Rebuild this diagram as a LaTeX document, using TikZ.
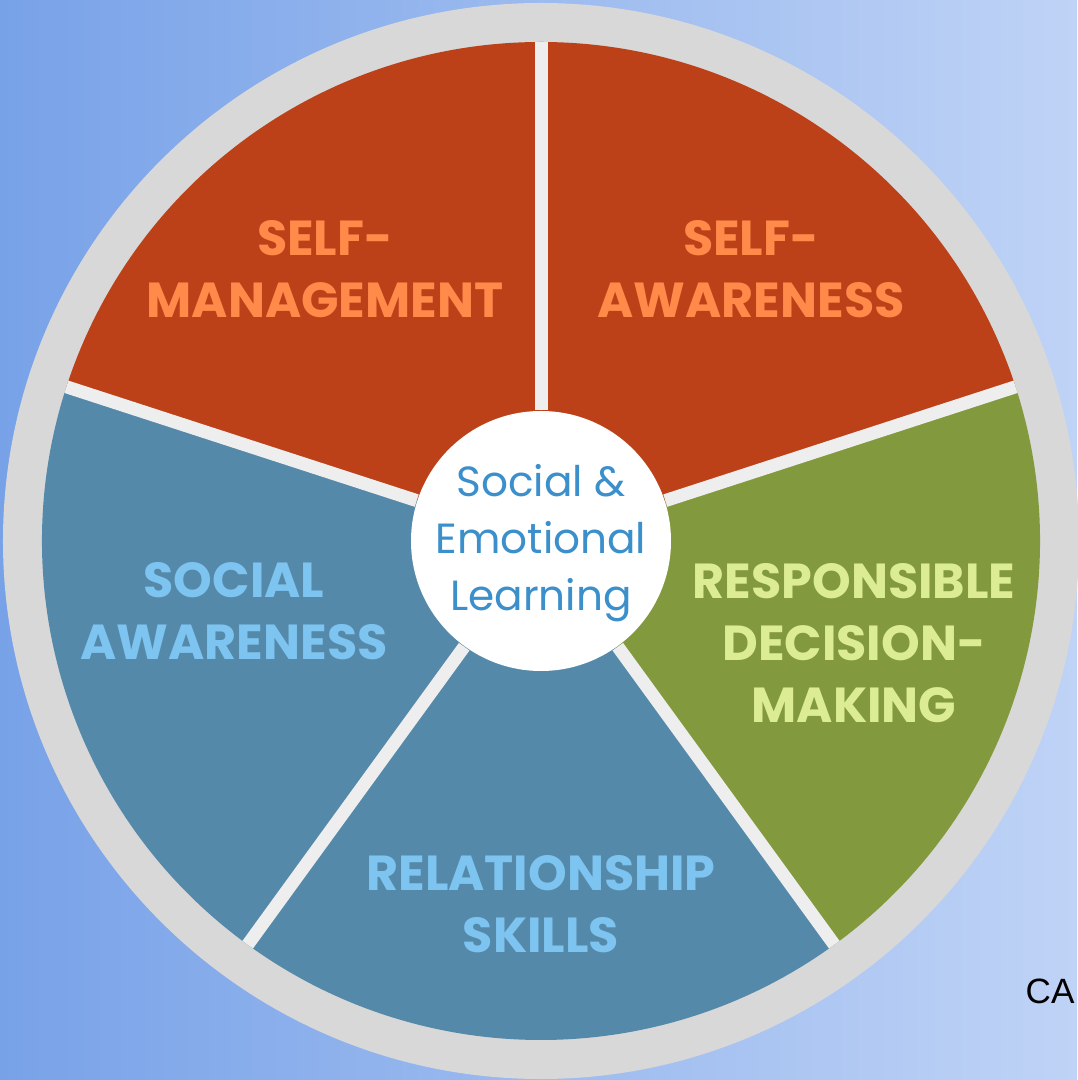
\documentclass[tikz,border=0pt]{standalone}
\usepackage{fontspec}
\setmainfont{Poppins}
\newfontfamily\capfont{Liberation Sans}
\usetikzlibrary{calc}
\definecolor{bgleft}{HTML}{78A2E8}
\definecolor{bgright}{HTML}{BFD3F6}
\definecolor{ring}{HTML}{D8D8D8}
\definecolor{gap}{HTML}{EEEEEE}
\definecolor{rust}{HTML}{BC4119}
\definecolor{rusttext}{HTML}{FF8A4A}
\definecolor{steel}{HTML}{5589AA}
\definecolor{steeltext}{HTML}{7EC4F0}
\definecolor{olive}{HTML}{82993D}
\definecolor{olivetext}{HTML}{DCEC94}
\definecolor{hubtext}{HTML}{3B8FCB}

\begin{document}
\begin{tikzpicture}[
  seglabel/.style={font=\bfseries\fontsize{14}{17.6}\selectfont, align=center, inner sep=0pt},
  ]
% Background
\shade[left color=bgleft, right color=bgright] (-5.41,-5.39) rectangle (5.36,5.41);
\useasboundingbox (-5.41,-5.39) rectangle (5.36,5.41);

% Outer ring
\coordinate (O) at (0,0);
\fill[ring] (O) circle (5.38);

% Five sectors, counter-clockwise from the 18 degree divider
\foreach \a/\c in {18/rust,90/rust,162/steel,234/steel,306/olive}{
  \fill[\c] (O) -- (\a:4.99) arc (\a:\a+72:4.99) -- cycle;
}

% Hub
\node[circle, fill=white, minimum size=2.6cm, inner sep=0pt] (hub) at (O) {};
\node[text=hubtext, align=center, inner sep=0pt,
  font=\fontsize{12}{16.2}\selectfont] (hubtitle) at (0,-0.02)
  {Social \&\\Emotional\\Learning};

% Gaps between sectors
\foreach \a in {90,18,-54,-126,162}{
  \coordinate (g\a) at (\a:4.99);
  \draw[gap, line width=0.13cm] (hub.\a) -- (g\a);
}

% Sector labels
\node[seglabel, text=rusttext] (selfman) at (-2.16,2.72) {SELF-\\MANAGEMENT};
\node[seglabel, text=rusttext] (selfaw) at (2.10,2.72) {SELF-\\AWARENESS};
\node[seglabel, text=olivetext] (decide) at (3.13,-1.02) {RESPONSIBLE\\DECISION-\\MAKING};
\node[seglabel, text=steeltext] (socaw) at (-3.07,-0.70) {SOCIAL\\AWARENESS};
\node[seglabel, text=steeltext] (relate) at (0,-3.63) {RELATIONSHIP\\SKILLS};

% Corner text
\node[anchor=base west, inner sep=0pt, font=\capfont\fontsize{10}{12}\selectfont] (ca) at (4.84,-4.62) {CA};
\end{tikzpicture}
\end{document}
